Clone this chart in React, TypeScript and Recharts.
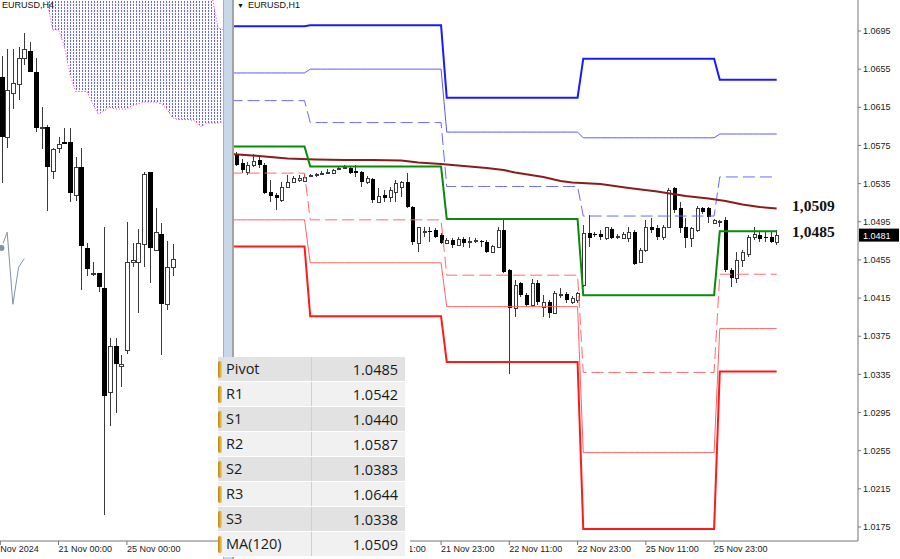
import { Area, Bar, ComposedChart, Line, ReferenceLine, XAxis, YAxis } from 'recharts'

const AXIS_FONT = '"Liberation Sans", Arial, sans-serif'
const TABLE_FONT = '"Open Sans", "Noto Sans", sans-serif'
const NOTE_FONT = '"Liberation Serif", "Times New Roman", serif'

// EURUSD H1, bars 1..96 = 20 Nov 11:00 .. 26 Nov 10:00
const H1_OPEN = [
  1.0565, 1.0557, 1.0547, 1.0555, 1.0560, 1.0555, 1.0526, 1.0523, 1.0518, 1.0531, 1.0537, 1.0539,
  1.0538, 1.0543, 1.0544, 1.0545, 1.0546, 1.0546, 1.0550, 1.0551, 1.0551, 1.0548, 1.0547, 1.0537,
  1.0540, 1.0516, 1.0523, 1.0521, 1.0526, 1.0531, 1.0537, 1.0510, 1.0473, 1.0484, 1.0485, 1.0486,
  1.0481, 1.0473, 1.0476, 1.0471, 1.0477, 1.0474, 1.0475, 1.0475, 1.0474, 1.0463, 1.0469, 1.0486,
  1.0444, 1.0405, 1.0431, 1.0418, 1.0408, 1.0431, 1.0406, 1.0411, 1.0399, 1.0418, 1.0419, 1.0411,
  1.0413, 1.0429, 1.0483, 1.0482, 1.0482, 1.0478, 1.0487, 1.0479, 1.0478, 1.0478, 1.0484, 1.0453,
  1.0465, 1.0489, 1.0488, 1.0479, 1.0490, 1.0530, 1.0509, 1.0489, 1.0478, 1.0486, 1.0509, 1.0509,
  1.0494, 1.0495, 1.0497, 1.0444, 1.0436, 1.0455, 1.0461, 1.0479, 1.0481, 1.0479, 1.0479, 1.0474,
]
const H1_HIGH = [
  1.0568, 1.0561, 1.0558, 1.0566, 1.0565, 1.0557, 1.0539, 1.0525, 1.0537, 1.0544, 1.0543, 1.0544,
  1.0545, 1.0545, 1.0546, 1.0548, 1.0550, 1.0550, 1.0553, 1.0554, 1.0553, 1.0555, 1.0548, 1.0543,
  1.0541, 1.0530, 1.0528, 1.0531, 1.0539, 1.0538, 1.0546, 1.0511, 1.0490, 1.0489, 1.0489, 1.0488,
  1.0483, 1.0478, 1.0478, 1.0479, 1.0479, 1.0479, 1.0478, 1.0476, 1.0476, 1.0471, 1.0490, 1.0499,
  1.0445, 1.0434, 1.0432, 1.0420, 1.0435, 1.0434, 1.0418, 1.0413, 1.0422, 1.0426, 1.0421, 1.0417,
  1.0421, 1.0492, 1.0502, 1.0484, 1.0486, 1.0490, 1.0489, 1.0482, 1.0484, 1.0489, 1.0486, 1.0467,
  1.0497, 1.0499, 1.0492, 1.0492, 1.0530, 1.0531, 1.0516, 1.0499, 1.0490, 1.0511, 1.0510, 1.0510,
  1.0498, 1.0497, 1.0500, 1.0446, 1.0463, 1.0465, 1.0481, 1.0489, 1.0485, 1.0484, 1.0484, 1.0486,
]
const H1_LOW = [
  1.0553, 1.0546, 1.0544, 1.0552, 1.0551, 1.0524, 1.0516, 1.0507, 1.0516, 1.0530, 1.0536, 1.0537,
  1.0537, 1.0542, 1.0542, 1.0544, 1.0545, 1.0545, 1.0549, 1.0550, 1.0545, 1.0542, 1.0531, 1.0535,
  1.0515, 1.0515, 1.0516, 1.0516, 1.0516, 1.0521, 1.0509, 1.0471, 1.0463, 1.0479, 1.0474, 1.0478,
  1.0472, 1.0472, 1.0468, 1.0470, 1.0469, 1.0468, 1.0473, 1.0469, 1.0462, 1.0462, 1.0468, 1.0441,
  1.0335, 1.0395, 1.0416, 1.0406, 1.0406, 1.0408, 1.0395, 1.0394, 1.0398, 1.0415, 1.0410, 1.0409,
  1.0410, 1.0427, 1.0469, 1.0479, 1.0476, 1.0476, 1.0477, 1.0477, 1.0477, 1.0474, 1.0450, 1.0452,
  1.0463, 1.0483, 1.0476, 1.0476, 1.0488, 1.0504, 1.0483, 1.0468, 1.0469, 1.0484, 1.0503, 1.0494,
  1.0493, 1.0490, 1.0442, 1.0427, 1.0431, 1.0448, 1.0458, 1.0476, 1.0474, 1.0474, 1.0473, 1.0471,
]
const H1_CLOSE = [
  1.0555, 1.0549, 1.0555, 1.0559, 1.0555, 1.0525, 1.0522, 1.0520, 1.0531, 1.0537, 1.0541, 1.0541,
  1.0542, 1.0544, 1.0545, 1.0546, 1.0547, 1.0549, 1.0551, 1.0552, 1.0546, 1.0546, 1.0537, 1.0541,
  1.0518, 1.0522, 1.0520, 1.0528, 1.0536, 1.0537, 1.0510, 1.0474, 1.0489, 1.0485, 1.0484, 1.0479,
  1.0473, 1.0476, 1.0471, 1.0477, 1.0473, 1.0475, 1.0476, 1.0474, 1.0463, 1.0470, 1.0486, 1.0442,
  1.0405, 1.0429, 1.0418, 1.0408, 1.0431, 1.0411, 1.0411, 1.0399, 1.0420, 1.0419, 1.0413, 1.0415,
  1.0420, 1.0483, 1.0478, 1.0481, 1.0479, 1.0489, 1.0478, 1.0480, 1.0482, 1.0484, 1.0451, 1.0465,
  1.0490, 1.0486, 1.0479, 1.0490, 1.0528, 1.0507, 1.0488, 1.0478, 1.0488, 1.0509, 1.0505, 1.0500,
  1.0497, 1.0496, 1.0444, 1.0436, 1.0455, 1.0463, 1.0479, 1.0482, 1.0477, 1.0478, 1.0474, 1.0481,
]

// daily pivot levels for 20, 21, 22, 25 and 26 Nov; DAY_START = first bar of each day
const DAY_START = [0, 14, 38, 62, 86]
const R3 = [1.0700, 1.0701, 1.0625, 1.0666, 1.0644]
const R2 = [1.0651, 1.0655, 1.0589, 1.0583, 1.0587]
const R1 = [1.0622, 1.0599, 1.0532, 1.0501, 1.0542]
const PIVOT = [1.0574, 1.0553, 1.0498, 1.0418, 1.0485]
const S1 = [1.0546, 1.0497, 1.0439, 1.0337, 1.0440]
const S2 = [1.0497, 1.0452, 1.0406, 1.0253, 1.0383]
const S3 = [1.0469, 1.0396, 1.0348, 1.0173, 1.0338]

// MA(120) read at these bars
const MA_AT = [0, 5, 10, 15, 20, 25, 30, 33, 37, 40, 45, 48, 50, 55, 58, 60, 65, 70, 75, 80, 84, 87, 90, 93, 96]
const MA_VAL = [
  1.0566, 1.0564, 1.05613, 1.05603, 1.05598, 1.05598, 1.05593, 1.05571, 1.05556, 1.0554, 1.05514, 1.05493,
  1.05467, 1.05419, 1.05377, 1.05362, 1.05346, 1.05304, 1.05267, 1.0522, 1.05194, 1.05168, 1.05131, 1.05105, 1.0509,
]

const PRICE_TICKS = [
  1.0175, 1.0215, 1.0255, 1.0295, 1.0335, 1.0375, 1.0415, 1.0455, 1.0495, 1.0535, 1.0575, 1.0615, 1.0655, 1.0695,
]
const H1_TICKS = [25, 37, 49, 61, 73, 85]
const H1_TICK_LABELS = ['21 Nov 11:00', '21 Nov 23:00', '22 Nov 11:00', '22 Nov 23:00', '25 Nov 11:00', '25 Nov 23:00']

// EURUSD H4, bars 0..30 (21 Nov 00:00 = bar 10, 25 Nov 00:00 = bar 22)
const H4_OPEN = [
  1.0584, 1.0550, 1.0575, 1.0580, 1.0595, 1.0599, 1.0587, 1.0556, 1.0556, 1.0531, 1.0544, 1.0547,
  1.0547, 1.0517, 1.0533, 1.0487, 1.0473, 1.0473, 1.0464, 1.0405, 1.0431, 1.0420, 1.0429, 1.0479,
  1.0479, 1.0489, 1.0530, 1.0486, 1.0495, 1.0455, 1.0476,
]
const H4_HIGH = [
  1.0596, 1.0600, 1.0600, 1.0601, 1.0609, 1.0604, 1.0595, 1.0567, 1.0557, 1.0544, 1.0550, 1.0555,
  1.0555, 1.0539, 1.0544, 1.0490, 1.0479, 1.0473, 1.0499, 1.0436, 1.0436, 1.0426, 1.0502, 1.0490,
  1.0498, 1.0530, 1.0530, 1.0510, 1.0501, 1.0491, 1.0489,
]
const H4_LOW = [
  1.0524, 1.0544, 1.0566, 1.0571, 1.0591, 1.0587, 1.0553, 1.0543, 1.0508, 1.0526, 1.0541, 1.0546,
  1.0513, 1.0514, 1.0463, 1.0471, 1.0471, 1.0462, 1.0335, 1.0386, 1.0393, 1.0408, 1.0427, 1.0476,
  1.0450, 1.0476, 1.0467, 1.0486, 1.0426, 1.0452, 1.0471,
]
const H4_CLOSE = [
  1.0550, 1.0577, 1.0581, 1.0595, 1.0600, 1.0587, 1.0555, 1.0556, 1.0533, 1.0543, 1.0546, 1.0546,
  1.0518, 1.0533, 1.0488, 1.0475, 1.0473, 1.0465, 1.0403, 1.0431, 1.0421, 1.0421, 1.0479, 1.0480,
  1.0490, 1.0529, 1.0487, 1.0496, 1.0455, 1.0476, 1.0481,
]
const CHIKOU_SHIFT = 26

// Ichimoku cloud edges, bars 7..39
const KUMO_FROM = 7
const SPAN_LOW = [
  1.0639, 1.0627, 1.0611, 1.0611, 1.0602, 1.0586, 1.0576, 1.0576, 1.0576, 1.0569, 1.0563, 1.0565,
  1.0567, 1.0566, 1.0566, 1.0566, 1.0568, 1.0569, 1.0570, 1.0570, 1.0570, 1.0569, 1.0566, 1.0561,
  1.0560, 1.0560, 1.0560, 1.0559, 1.0556, 1.0558, 1.0558, 1.0558, 1.0559,
]
const SPAN_HIGH = [
  1.0665, 1.0665, 1.0665, 1.0665, 1.0665, 1.0665, 1.0665, 1.0665, 1.0665, 1.0665, 1.0665, 1.0665,
  1.0665, 1.0665, 1.0665, 1.0665, 1.0665, 1.0665, 1.0665, 1.0665, 1.0665, 1.0665, 1.0665, 1.0665,
  1.0665, 1.0665, 1.0665, 1.0665, 1.0660, 1.0648, 1.0629, 1.0612, 1.0611,
]
const H4_TICKS = [-0.2, 10, 22]
const H4_TICK_LABELS = ['Nov 2024', '21 Nov 00:00', '25 Nov 00:00']

const dayOf = (i: number) => DAY_START.reduce((d, s, k) => (i >= s ? k : d), 0)

const h1Rows = Array.from({ length: H1_OPEN.length + 1 }, (_, i) => {
  const d = dayOf(i)
  const k = MA_AT.indexOf(i)
  const c = i - 1
  const candle = c >= 0
    ? { open: H1_OPEN[c], high: H1_HIGH[c], low: H1_LOW[c], close: H1_CLOSE[c], hl: [H1_LOW[c], H1_HIGH[c]] }
    : {}
  return {
    i,
    ...candle,
    r3: R3[d], r2: R2[d], r1: R1[d], p: PIVOT[d], s1: S1[d], s2: S2[d], s3: S3[d],
    ma: k >= 0 ? MA_VAL[k] : null,
  }
})

const h4Rows = Array.from({ length: KUMO_FROM + SPAN_LOW.length }, (_, j) => {
  const row: any = { j }
  if (j < H4_OPEN.length) {
    Object.assign(row, { open: H4_OPEN[j], high: H4_HIGH[j], low: H4_LOW[j], close: H4_CLOSE[j], hl: [H4_LOW[j], H4_HIGH[j]] })
  }
  if (j + CHIKOU_SHIFT < H4_CLOSE.length) row.chikou = H4_CLOSE[j + CHIKOU_SHIFT]
  const k = j - KUMO_FROM
  if (k >= 0) {
    row.spanLo = SPAN_LOW[k]
    row.spanHi = SPAN_HIGH[k]
    row.kumo = [SPAN_LOW[k], SPAN_HIGH[k]]
  }
  return row
})

const last = PIVOT.length - 1
const TABLE = [
  ['Pivot', PIVOT[last]], ['R1', R1[last]], ['S1', S1[last]], ['R2', R2[last]],
  ['S2', S2[last]], ['R3', R3[last]], ['S3', S3[last]], ['MA(120)', MA_VAL[MA_VAL.length - 1]],
] as const

function candleShape(bodyW: number) {
  return (props: any) => {
    const { x, y, width, height, payload } = props
    if (!payload || payload.hl == null || !Number.isFinite(x) || !Number.isFinite(y)) return <g />
    const top = Math.min(y, y + height)
    const span = Math.abs(height)
    const { open, high, low, close } = payload
    const py = (v: number) => (high > low ? top + ((high - v) / (high - low)) * span : top)
    const cx = Math.round(x + width / 2) + 0.5
    const bTop = Math.round(py(Math.max(open, close)))
    const bBot = Math.round(py(Math.min(open, close)))
    const h = Math.max(bBot - bTop, 1)
    const bull = close >= open
    return (
      <g shapeRendering="crispEdges">
        <line x1={cx} x2={cx} y1={top} y2={top + span} stroke="#3a3a3a" />
        {bull
          ? <rect x={cx - bodyW / 2} y={bTop + 0.5} width={bodyW} height={h} fill="#fff" stroke="#3a3a3a" />
          : <rect x={cx - bodyW / 2 - 0.5} y={bTop} width={bodyW + 1} height={h} fill="#000" />}
      </g>
    )
  }
}

function TimeTick(props: any) {
  const { x, y, payload, ticks, labels } = props
  const label = labels[ticks.indexOf(payload.value)]
  return (
    <text x={x} y={y + 5} fontSize={9} fill="#222" fontFamily={AXIS_FONT}>{label}</text>
  )
}

function PriceTag(props: any) {
  const { viewBox, txt } = props
  if (!viewBox) return null
  const x = viewBox.x + viewBox.width + 1
  return (
    <g>
      <rect x={x} y={viewBox.y - 6.5} width={40} height={13} fill="#000" />
      <text x={x + 4} y={viewBox.y + 3.5} fontSize={9} fill="#fff" fontFamily={AXIS_FONT}>{txt}</text>
    </g>
  )
}

function LevelNote(props: any) {
  const { viewBox, txt, dy } = props
  if (!viewBox) return null
  return (
    <text x={viewBox.x + 558} y={viewBox.y + dy} dominantBaseline="central" fontFamily={NOTE_FONT}
      fontWeight="bold" fontSize={15.5} fill="#111">{txt}</text>
  )
}

const lastClose = H1_CLOSE[H1_CLOSE.length - 1]
const lastMa = MA_VAL[MA_VAL.length - 1]

export default function App() {
  return (
    <div style={{ position: 'absolute', left: 0, top: 0, width: 900, height: 559, background: '#fff', overflow: 'hidden' }}>
      <div style={{ position: 'absolute', left: 0, top: 0 }}>
        <ComposedChart width={224} height={559} data={h4Rows} margin={{ top: 0, right: 0, bottom: 0, left: 0 }}>
          <defs>
            <pattern id="kumo" width="3" height="3" patternUnits="userSpaceOnUse">
              <rect x="1" y="1" width="1" height="2" fill="#4646ff" />
            </pattern>
          </defs>
          <XAxis dataKey="j" type="number" domain={[-0.26, 39.03]} allowDataOverflow ticks={H4_TICKS} interval={0}
            height={18} tickSize={4} axisLine={{ stroke: '#777' }} tickLine={{ stroke: '#777' }}
            tick={<TimeTick ticks={H4_TICKS} labels={H4_TICK_LABELS} />} />
          <YAxis hide domain={[1.03204, 1.0628]} allowDataOverflow />
          <Area dataKey="kumo" fill="url(#kumo)" fillOpacity={0.85} stroke="none" isAnimationActive={false} />
          <Line dataKey="spanLo" stroke="#ff33ff" strokeDasharray="1 2" dot={false} isAnimationActive={false} />
          <Line dataKey="spanHi" stroke="#ff33ff" strokeDasharray="1 2" dot={false} isAnimationActive={false} />
          <Line dataKey="chikou" stroke="#8194a8" dot={false} isAnimationActive={false} />
          <Bar dataKey="hl" barSize={4} shape={candleShape(4)} isAnimationActive={false} />
        </ComposedChart>
      </div>

      <div style={{ position: 'absolute', left: 223, top: 0, width: 11, height: 559, background: '#c9d8e9',
        borderLeft: '1px solid #9fb0c2', borderRight: '2px solid #a3a3a3', boxSizing: 'border-box' }} />

      <div style={{ position: 'absolute', left: 234, top: 0 }}>
        <ComposedChart width={666} height={559} data={h1Rows} margin={{ top: 0, right: 0, bottom: 0, left: 0 }}>
          <XAxis dataKey="i" type="number" domain={[0.6, 110.3]} allowDataOverflow ticks={H1_TICKS} interval={0}
            height={18} tickSize={4} axisLine={{ stroke: '#777' }} tickLine={{ stroke: '#777' }}
            tick={<TimeTick ticks={H1_TICKS} labels={H1_TICK_LABELS} />} />
          <YAxis orientation="right" width={42} domain={[1.01603, 1.07275]} allowDataOverflow ticks={PRICE_TICKS}
            interval={0} tickSize={3} tickFormatter={(v: number) => v.toFixed(4)}
            axisLine={{ stroke: '#777' }} tickLine={{ stroke: '#777' }}
            tick={{ fontSize: 9, fill: '#222', fontFamily: AXIS_FONT }} />
          <Bar dataKey="hl" barSize={3} shape={candleShape(3)} isAnimationActive={false} />
          <Line dataKey="r3" stroke="#1a1aff" strokeWidth={2} dot={false} isAnimationActive={false} />
          <Line dataKey="r2" stroke="#5a5aff" strokeWidth={1} dot={false} isAnimationActive={false} />
          <Line dataKey="r1" stroke="#6a6aff" strokeWidth={1} strokeDasharray="12 5" dot={false} isAnimationActive={false} />
          <Line dataKey="ma" stroke="#8b1c1c" strokeWidth={2} dot={false} connectNulls isAnimationActive={false} />
          <Line dataKey="p" stroke="#0a8a0a" strokeWidth={2} dot={false} isAnimationActive={false} />
          <Line dataKey="s1" stroke="#ff6a6a" strokeWidth={1} strokeDasharray="12 5" dot={false} isAnimationActive={false} />
          <Line dataKey="s2" stroke="#ff6464" strokeWidth={1} dot={false} isAnimationActive={false} />
          <Line dataKey="s3" stroke="#ff1a1a" strokeWidth={2} dot={false} isAnimationActive={false} />
          <ReferenceLine y={lastMa} stroke="none" label={<LevelNote txt={lastMa.toFixed(4).replace('.', ',')} dy={-3} />} />
          <ReferenceLine y={PIVOT[last]} stroke="none" label={<LevelNote txt={PIVOT[last].toFixed(4).replace('.', ',')} dy={0} />} />
          <ReferenceLine y={lastClose} stroke="none" label={<PriceTag txt={lastClose.toFixed(4)} />} />
        </ComposedChart>
      </div>

      <div style={{ position: 'absolute', left: 2, top: 0, fontSize: 9, fontFamily: AXIS_FONT, color: '#111' }}>EURUSD,H4</div>
      <div style={{ position: 'absolute', left: 237, top: 0, fontSize: 9, fontFamily: AXIS_FONT, color: '#111' }}>
        <span style={{ fontSize: 7, marginRight: 4 }}>▼</span>EURUSD,H1
      </div>

      <div style={{ position: 'absolute', left: 218, top: 357, width: 187, paddingRight: 5, background: '#fff', fontFamily: TABLE_FONT }}>
        {TABLE.map(([name, val], k) => (
          <div key={name} style={{ display: 'flex', height: 24, marginBottom: 1, background: k % 2 ? '#f1f1f1' : '#e2e2e2',
            fontSize: 14.5, color: '#1a1a1a', alignItems: 'center' }}>
            <div style={{ width: 4, height: 17, borderRadius: 2, background: 'linear-gradient(90deg,#b8860b,#f5d060)' }} />
            <div style={{ width: 85, paddingLeft: 4, borderRight: '1px solid #cfcfcf', height: 24, lineHeight: '24px' }}>{name}</div>
            <div style={{ flex: 1, textAlign: 'right', paddingRight: 7 }}>{val.toFixed(4)}</div>
          </div>
        ))}
      </div>
    </div>
  )
}
